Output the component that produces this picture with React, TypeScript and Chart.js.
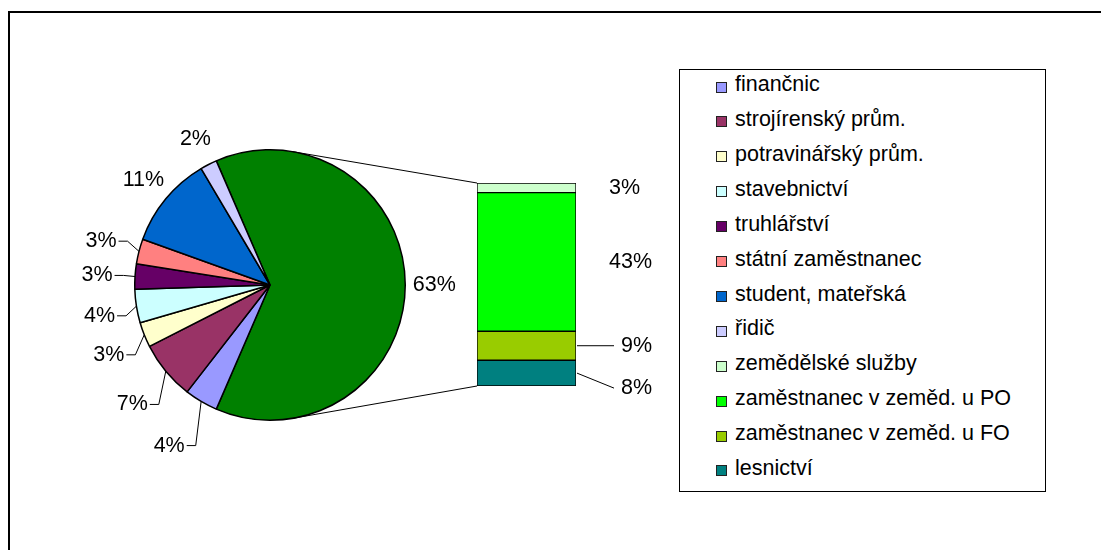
import { useEffect, useRef } from "react";
import { Chart, registerables } from "chart.js";

Chart.register(...registerables);

// ---- data ----
const pieCategories = [
  "finančnic",
  "strojírenský prům.",
  "potravinářský prům.",
  "stavebnictví",
  "truhlářství",
  "státní zaměstnanec",
  "student, mateřská",
  "řidič",
];
const pieValues = [4, 7, 3, 4, 3, 3, 11, 2];

const barCategories = [
  "zemědělské služby",
  "zaměstnanec v zeměd. u PO",
  "zaměstnanec v zeměd. u FO",
  "lesnictví",
];
const barValues = [3, 43, 9, 8];
const otherLabel = "ostatní";

// ---- styles ----
const pieColors = ["#9999FF", "#993366", "#FFFFCC", "#CCFFFF", "#660066", "#FF8080", "#0066CC", "#CCCCFF"];
const otherColor = "#008000";
const barColors = ["#CCFFCC", "#00FF00", "#99CC00", "#008080"];
const FONT_PX = 21.5;
const FONT_FAMILY = '"Liberation Sans", Arial, sans-serif';
const FONT = `${FONT_PX}px ${FONT_FAMILY}`;
const W = 1101;
const H = 550;
// bar label layout (top-to-bottom order, like barCategories)
const barLabelLeader = [false, false, true, true];
const barLabelDrop = [0, 0, 0, 15];

const sum = (a: number[]) => a.reduce((s, v) => s + v, 0);

export default function App() {
  const pieRef = useRef<HTMLCanvasElement | null>(null);
  const barRef = useRef<HTMLCanvasElement | null>(null);

  useEffect(() => {
    const otherTotal = sum(barValues);
    const pieData = [otherTotal, ...pieValues];
    const total = sum(pieData);
    const rotation = 90 - (otherTotal / total) * 180;

    const pieLabelPlugin = {
      id: "pieLabels",
      afterDraw(chart: any) {
        const meta = chart.getDatasetMeta(0);
        const ctx = chart.ctx;
        ctx.save();
        ctx.font = FONT;
        ctx.fillStyle = "#000";
        ctx.strokeStyle = "#000";
        ctx.lineWidth = 1;
        ctx.textBaseline = "middle";
        ctx.textAlign = "center";
        meta.data.forEach((arc: any, i: number) => {
          const p = arc.getProps(["x", "y", "startAngle", "endAngle", "outerRadius"], true);
          const mid = (p.startAngle + p.endAngle) / 2;
          const dx = Math.cos(mid);
          const dy = Math.sin(mid);
          const ax = p.x + dx * p.outerRadius;
          const ay = p.y + dy * p.outerRadius;
          const text = Math.round((pieData[i] / total) * 100) + "%";
          const w = ctx.measureText(text).width;
          const crowded = dx < 0 && dy > -0.4;
          if (!crowded) {
            const cx = p.x + dx * (p.outerRadius + 29);
            const cy = p.y + dy * (p.outerRadius + 29);
            ctx.fillText(text, cx, cy);
          } else {
            const cx = ax - 38 + 7 * Math.max(0, dy);
            const cy = ay + 2 + dy * 49;
            ctx.fillText(text, cx, cy);
            const x0 = cx + w / 2 + 2;
            const x1 = cx + w / 2 + 11;
            ctx.beginPath();
            ctx.moveTo(x0, cy);
            ctx.lineTo(x1, cy);
            ctx.lineTo(ax, ay);
            ctx.stroke();
          }
        });
        ctx.restore();
      },
    };

    const pieChart = new Chart(pieRef.current as HTMLCanvasElement, {
      type: "pie",
      data: {
        labels: [otherLabel, ...pieCategories],
        datasets: [
          {
            data: pieData,
            backgroundColor: [otherColor, ...pieColors],
            borderColor: "#000",
            borderWidth: 1.5,
            hoverOffset: 0,
            offset: 0,
          } as any,
        ],
      },
      options: {
        responsive: false,
        animation: false,
        rotation,
        events: [],
        layout: { padding: { left: 134, top: 149, right: W - 406, bottom: H - 421 } },
        plugins: { legend: { display: false }, tooltip: { enabled: false } },
      } as any,
      plugins: [pieLabelPlugin],
    });

    const n = barCategories.length;
    const barPlugin = {
      id: "barLabels",
      afterDraw(chart: any) {
        const ctx = chart.ctx;
        ctx.save();
        ctx.font = FONT;
        ctx.fillStyle = "#000";
        ctx.strokeStyle = "#000";
        ctx.lineWidth = 1;
        ctx.textBaseline = "middle";
        ctx.textAlign = "left";
        let topY = Infinity;
        let bottomY = -Infinity;
        let leftX = 0;
        for (let d = 0; d < n; d++) {
          const k = n - 1 - d; // index in barCategories
          const el = chart.getDatasetMeta(d).data[0];
          const p = el.getProps(["x", "y", "base", "width"], true);
          const top = Math.min(p.y, p.base);
          const bot = Math.max(p.y, p.base);
          topY = Math.min(topY, top);
          bottomY = Math.max(bottomY, bot);
          leftX = p.x - p.width / 2;
          const right = p.x + p.width / 2;
          const mid = (top + bot) / 2;
          const text = Math.round((barValues[k] / total) * 100) + "%";
          if (!barLabelLeader[k]) {
            ctx.fillText(text, right + 33, mid);
          } else {
            const ly = mid + barLabelDrop[k];
            ctx.fillText(text, right + 45, ly);
            ctx.beginPath();
            ctx.moveTo(right + 1, mid);
            ctx.lineTo(right + 38, ly);
            ctx.stroke();
          }
        }
        // series lines to the pie
        const arc: any = pieChart.getDatasetMeta(0).data[0];
        if (arc) {
          const a = arc.getProps(["x", "y", "outerRadius"], true);
          const tangent = (px: number, py: number, sign: number) => {
            const vx = px - a.x;
            const vy = py - a.y;
            const dd = Math.hypot(vx, vy);
            const ang = Math.atan2(vy, vx) + sign * Math.acos(a.outerRadius / dd);
            return [a.x + a.outerRadius * Math.cos(ang), a.y + a.outerRadius * Math.sin(ang)];
          };
          const t1 = tangent(leftX, topY, -1);
          const t2 = tangent(leftX, bottomY, 1);
          ctx.beginPath();
          ctx.moveTo(t1[0], t1[1]);
          ctx.lineTo(leftX, topY);
          ctx.moveTo(t2[0], t2[1]);
          ctx.lineTo(leftX, bottomY);
          ctx.stroke();
        }
        ctx.restore();
      },
    };

    const barChart = new Chart(barRef.current as HTMLCanvasElement, {
      type: "bar",
      data: {
        labels: [""],
        datasets: barCategories
          .map((c, i) => ({
            label: c,
            data: [barValues[i]],
            backgroundColor: barColors[i],
            borderColor: "#000",
            borderWidth: 1,
            borderSkipped: false,
            barPercentage: 1,
            categoryPercentage: 1,
          }))
          .reverse(),
      },
      options: {
        responsive: false,
        animation: false,
        events: [],
        layout: { padding: { left: 477, right: W - 576, top: 183, bottom: H - 386 } },
        scales: {
          x: { display: false, stacked: true },
          y: { display: false, stacked: true, min: 0, max: otherTotal },
        },
        plugins: { legend: { display: false }, tooltip: { enabled: false } },
      } as any,
      plugins: [barPlugin],
    });

    return () => {
      barChart.destroy();
      pieChart.destroy();
    };
  }, []);

  const legendItems = [
    ...pieCategories.map((c, i) => ({ label: c, color: pieColors[i] })),
    ...barCategories.map((c, i) => ({ label: c, color: barColors[i] })),
  ];

  return (
    <div
      style={{
        position: "absolute",
        left: 0,
        top: 0,
        width: W,
        height: H,
        overflow: "hidden",
        background: "#fff",
      }}
    >
      <div
        style={{
          position: "absolute",
          left: 8,
          top: 11,
          right: 0,
          bottom: 0,
          borderLeft: "2px solid #000",
          borderTop: "2px solid #000",
        }}
      />
      <canvas ref={pieRef} width={W} height={H} style={{ position: "absolute", left: 0, top: 0 }} />
      <canvas ref={barRef} width={W} height={H} style={{ position: "absolute", left: 0, top: 0 }} />
      <div
        style={{
          position: "absolute",
          left: 679,
          top: 69,
          width: 367,
          height: 423,
          border: "1px solid #000",
          boxSizing: "border-box",
          background: "#fff",
          fontFamily: FONT_FAMILY,
          fontSize: FONT_PX,
          color: "#000",
        }}
      >
        {legendItems.map((it, i) => (
          <div key={i}>
            <div
              style={{
                position: "absolute",
                left: 36,
                top: 11.5 + 34.9 * i,
                width: 11,
                height: 11,
                boxSizing: "border-box",
                border: "1px solid #222",
                background: it.color,
              }}
            />
            <div
              style={{
                position: "absolute",
                left: 55,
                top: 4.1 + 34.9 * i,
                lineHeight: `${FONT_PX}px`,
                whiteSpace: "nowrap",
              }}
            >
              {it.label}
            </div>
          </div>
        ))}
      </div>
    </div>
  );
}
